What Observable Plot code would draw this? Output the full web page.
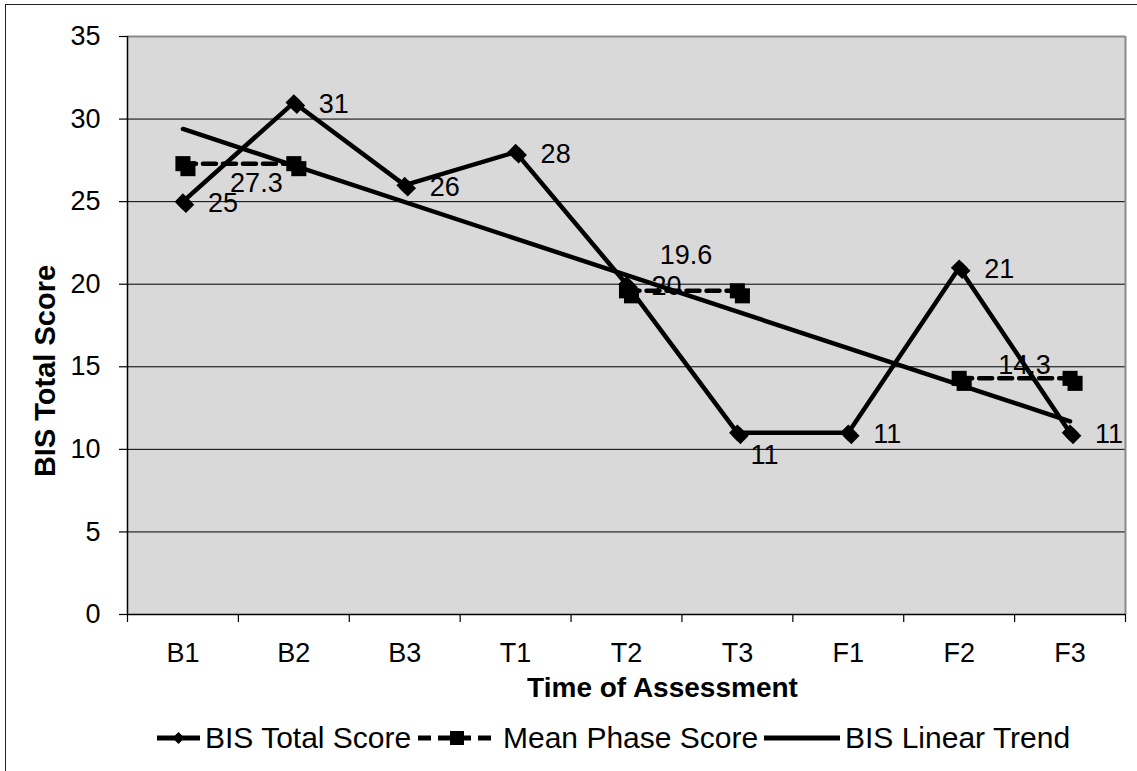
<!DOCTYPE html>
<html><head><meta charset="utf-8">
<script src="https://cdn.jsdelivr.net/npm/d3@7"></script>
<script src="https://cdn.jsdelivr.net/npm/@observablehq/plot@0.6"></script>
<style>
body{margin:0;background:#fff;font-family:"Liberation Sans",Arial,sans-serif;}
#wrap{position:relative;width:1137px;height:771px;overflow:hidden;}
#border{position:absolute;left:5px;top:4px;width:1200px;height:900px;border:1px solid #222;box-sizing:border-box;}
#chart{position:absolute;left:0;top:0;}
#ytitle{position:absolute;left:45px;top:371px;transform:translate(-50%,-50%) rotate(-90deg);font-weight:bold;font-size:29px;white-space:nowrap;color:#000;line-height:1;}
.leg{position:absolute;top:720px;height:36px;display:flex;align-items:center;font-size:30px;color:#000;white-space:nowrap;}
.leg svg{margin-right:5px;}
</style></head>
<body>
<div id="wrap">
  <div id="border"></div>
  <div id="chart"></div>
  <div id="ytitle"></div>
  <div id="legend"></div>
</div>
<script>
const categories = ["B1","B2","B3","T1","T2","T3","F1","F2","F3"];
const bisScores = [25,31,26,28,20,11,11,21,11];
const meanCategories = ["B1","B2","T2","T3","F2","F3"];
const meanScores = [27.3,27.3,19.6,19.6,14.3,14.3];
const meanPhases = ["Baseline","Baseline","Treatment","Treatment","Follow-up","Follow-up"];
const meanLabels = ["27.3","19.6","14.3"];
const trendCategories = ["B1","F3"];
const trendScores = [29.4,11.7];
const yTicks = [0,5,10,15,20,25,30,35];
const seriesNames = ["BIS Total Score","Mean Phase Score","BIS Linear Trend"];
const xTitle = "Time of Assessment";
const yTitle = "BIS Total Score";

const pos = c => categories.indexOf(c) + 0.5;
const bis = categories.map((c,i)=>({cat:c, x:pos(c), y:bisScores[i], label:String(bisScores[i])}));
const mean = meanCategories.map((c,i)=>({cat:c, x:pos(c), y:meanScores[i], phase:meanPhases[i]}));
const trend = trendCategories.map((c,i)=>({x:pos(c), y:trendScores[i]}));
const phaseNames = [...new Set(meanPhases)];
const meanLab = phaseNames.map((p,i)=>{
  const v = mean.filter(d=>d.phase===p);
  return {x:(v[0].x+v[1].x)/2, y:v[0].y, label:meanLabels[i]};
});
const meanLabOffsets = [[18,20],[4,-35],[10,-13]];
const font = "Liberation Sans, Arial, sans-serif";

const chart = Plot.plot({
  width:1137, height:771,
  marginLeft:127, marginRight:12, marginTop:36, marginBottom:157,
  style:{background:"transparent", fontFamily:font, fontSize:"27px", color:"#000", overflow:"visible"},
  x:{type:"linear", domain:[0, categories.length]},
  y:{domain:[0,35]},
  marks:[
    Plot.frame({fill:"#d9d9d9", stroke:null}),
    Plot.ruleY(yTicks.slice(1,-1), {stroke:"#000", strokeWidth:1}),
    Plot.ruleY([35], {stroke:"#8a8a8a", strokeWidth:2}),
    Plot.ruleX([categories.length], {stroke:"#8a8a8a", strokeWidth:2}),
    Plot.ruleX([0], {stroke:"#000", strokeWidth:1.5}),
    Plot.ruleY([0], {stroke:"#000", strokeWidth:1.5}),
    Plot.axisY(yTicks, {tickSize:8, tickPadding:19, fontSize:27, label:null, stroke:"#000", strokeWidth:1.2}),
    Plot.axisX(d3.range(categories.length+1), {tickSize:8, tickFormat:()=>"", label:null, stroke:"#000", strokeWidth:1.2}),
    Plot.axisX(categories.map(pos), {tickSize:0, tickPadding:28, fontSize:27, tickFormat:v=>categories[Math.floor(v)], label:null}),
    Plot.text([xTitle], {text:d=>d, frameAnchor:"bottom", dx:36, dy:82, fontWeight:"bold", fontSize:28}),
    Plot.text(bis.filter(d=>d.cat!=="T3"), {x:"x", y:"y", text:"label", textAnchor:"start", dx:25, dy:2, fontSize:27}),
    Plot.text(bis.filter(d=>d.cat==="T3"), {x:"x", y:"y", text:"label", textAnchor:"start", dx:13, dy:23, fontSize:27}),
    ...meanLab.map((d,i)=>Plot.text([d], {x:"x", y:"y", text:"label", textAnchor:"middle", dx:meanLabOffsets[i][0], dy:meanLabOffsets[i][1], fontSize:27})),
    Plot.line(trend, {x:"x", y:"y", stroke:"#000", strokeWidth:4.5}),
    Plot.line(mean, {x:"x", y:"y", z:"phase", stroke:"#000", strokeWidth:4.5, strokeDasharray:"13,7"}),
    Plot.line(bis, {x:"x", y:"y", stroke:"#000", strokeWidth:4.5}),
    Plot.dot(mean, {x:"x", y:"y", symbol:"square", r:8.5, fill:"#000", stroke:null, dx:5, dy:5}),
    Plot.dot(mean, {x:"x", y:"y", symbol:"square", r:8.5, fill:"#000", stroke:null}),
    Plot.dot(bis, {x:"x", y:"y", symbol:"diamond2", r:7.5, fill:"#000", stroke:null, dx:3, dy:3}),
    Plot.dot(bis, {x:"x", y:"y", symbol:"diamond2", r:7.5, fill:"#000", stroke:null})
  ]
});
document.getElementById("chart").appendChild(chart);
document.getElementById("ytitle").textContent = yTitle;

// legend
const legend = document.getElementById("legend");
const swatches = [
  `<svg width="43" height="20"><line x1="0" y1="10" x2="43" y2="10" stroke="#000" stroke-width="5"/><path d="M21.5 4 L27.5 10 L21.5 16 L15.5 10Z" fill="#000"/></svg>`,
  `<svg width="80" height="20"><line x1="0" y1="10" x2="80" y2="10" stroke="#000" stroke-width="5" stroke-dasharray="13,7"/><rect x="32" y="3" width="14" height="14" fill="#000"/></svg>`,
  `<svg width="76" height="20"><line x1="0" y1="10" x2="76" y2="10" stroke="#000" stroke-width="5"/></svg>`
];
const lefts = [157, 418, 764];
seriesNames.forEach((n,i)=>{
  const d = document.createElement("div");
  d.className = "leg";
  d.style.left = lefts[i] + "px";
  d.innerHTML = swatches[i] + `<span>${n}</span>`;
  legend.appendChild(d);
});
</script>
</body></html>
